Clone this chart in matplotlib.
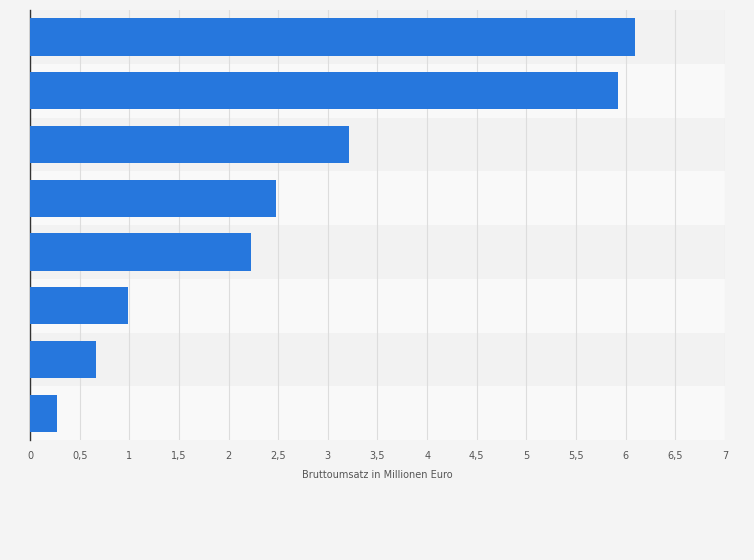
import matplotlib.pyplot as plt
import numpy as np

# bar values, top to bottom (Millionen Euro)
values = [6.09, 5.92, 3.21, 2.48, 2.23, 0.99, 0.66, 0.27]
xticks = [0, 0.5, 1, 1.5, 2, 2.5, 3, 3.5, 4, 4.5, 5, 5.5, 6, 6.5, 7]
xtick_labels = ['0', '0,5', '1', '1,5', '2', '2,5', '3', '3,5', '4', '4,5',
                '5', '5,5', '6', '6,5', '7']
xlabel = 'Bruttoumsatz in Millionen Euro'

fig = plt.figure(figsize=(7.54, 5.6), dpi=100)
fig.patch.set_facecolor('#f4f4f4')
ax = fig.add_axes([0.0398, 0.214, 0.9217, 0.768])
ax.set_facecolor('#f9f9f9')

n = len(values)
y = np.arange(n)[::-1]
# alternating row bands
for i, yy in enumerate(y):
    if i % 2 == 0:
        ax.axhspan(yy - 0.5, yy + 0.5, color='#f2f2f2', zorder=0, lw=0)
ax.barh(y, values, height=0.69, color='#2677dd', zorder=3)

ax.set_xlim(0, 7)
ax.set_ylim(-0.5, n - 0.5)
ax.set_xticks(xticks)
ax.set_xticklabels(xtick_labels, fontsize=7, color='#555555')
ax.set_yticks([])
ax.tick_params(axis='x', length=0, pad=8)
ax.xaxis.grid(True, color='#dddddd', lw=0.8, zorder=1)
for s in ['top', 'right', 'bottom']:
    ax.spines[s].set_visible(False)
ax.spines['left'].set_color('#333333')
ax.spines['left'].set_linewidth(1)
ax.set_xlabel(xlabel, fontsize=7, color='#555555', labelpad=6)

fig.savefig('out.png', dpi=100, facecolor=fig.get_facecolor())
